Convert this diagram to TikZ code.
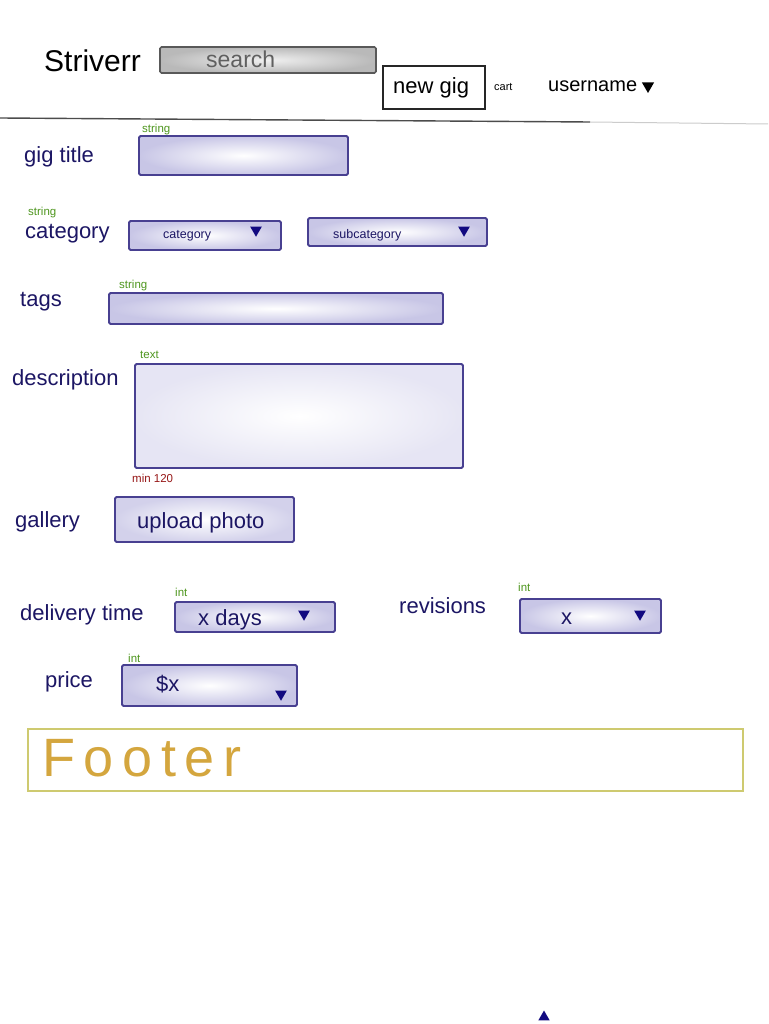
\documentclass[tikz,border=0pt]{standalone}
\usepackage{fontspec}
\setmainfont{Liberation Sans}
\usetikzlibrary{shapes.geometric}
\definecolor{navy}{RGB}{28,22,100}
\definecolor{fieldb}{RGB}{72,64,145}
\definecolor{fieldf}{RGB}{200,198,230}
\definecolor{tagg}{RGB}{78,150,30}
\definecolor{minred}{RGB}{150,22,22}
\definecolor{footb}{RGB}{206,202,112}
\definecolor{foott}{RGB}{212,166,62}
\definecolor{trig}{RGB}{18,10,128}
\begin{document}
\begin{tikzpicture}[x=1pt,y=-1pt,
  box/.style={anchor=north west, inner sep=0pt, outer sep=0pt},
  field/.style={box, draw=fieldb, line width=1.8pt, rounded corners=1.5pt,
    inner color=white, outer color=fieldf},
  lab/.style={text=navy, font=\fontsize{22}{26}\selectfont, anchor=base west, inner sep=0pt},
  small/.style={text=navy, font=\fontsize{12.5}{14}\selectfont, anchor=base west, inner sep=0pt},
  typ/.style={text=tagg, font=\fontsize{11.5}{13}\selectfont, anchor=base west, inner sep=0pt},
  tri/.style={regular polygon, regular polygon sides=3, fill=trig, inner sep=0pt,
    minimum size=13.5pt, shape border rotate=180},
  triup/.style={regular polygon, regular polygon sides=3, fill=trig, inner sep=0pt,
    minimum size=13pt}]
\useasboundingbox (0,0) rectangle (768,1024);
\fill[white] (0,0) rectangle (768,1024);

% header
\node[anchor=base west, inner sep=0pt, font=\fontsize{30}{34}\selectfont] (logo) at (44,72) {Striverr};
\node[box, draw=black!65, line width=1.6pt, rounded corners=1.5pt, inner color=gray!12, outer color=gray!55,
  minimum width=216pt, minimum height=26pt] (search) at (160,47) {};
\node[anchor=base west, inner sep=0pt, text=gray!75!black, font=\fontsize{23}{26}\selectfont] (searcht) at (206,68) {search};
\node[box, draw=black!85, line width=1.3pt, fill=white, minimum width=102pt, minimum height=43pt] (newgig) at (383,66) {};
\node[anchor=base west, inner sep=0pt, font=\fontsize{22}{26}\selectfont] (newgigt) at (393,94) {new gig};
\node[anchor=base west, inner sep=0pt, font=\fontsize{11}{13}\selectfont] (cart) at (494,91) {cart};
\node[anchor=base west, inner sep=0pt, font=\fontsize{20}{24}\selectfont] (user) at (548,92) {username};
\node[tri, fill=black, minimum size=14pt] (usertri) at (648,86) {};
\draw[line width=1.4pt, black!70] (0,118) -- (590,122);
\draw[line width=1pt, black!20] (590,122) -- (768,124);

% gig title
\node[typ] (t1) at (142,133) {string};
\node[lab] (l1) at (24,163) {gig title};
\node[field, minimum width=209pt, minimum height=39pt] (gigtitle) at (139,136) {};

% category
\node[typ] (t2) at (28,216) {string};
\node[lab] (l2) at (25,239) {category};
\node[field, minimum width=152pt, minimum height=29pt] (cat) at (129,221) {};
\node[small] (catt) at (163,238) {category};
\node[tri] (cattri) at (256,230) {};
\node[field, minimum width=179pt, minimum height=28pt] (subcat) at (308,218) {};
\node[small] (subcatt) at (333,238) {subcategory};
\node[tri] (subcattri) at (464,230) {};

% tags
\node[typ] (t3) at (119,288) {string};
\node[lab] (l3) at (20,306) {tags};
\node[field, minimum width=334pt, minimum height=31pt] (tags) at (109,293) {};

% description
\node[typ] (t4) at (140,358) {text};
\node[lab] (l4) at (12,385) {description};
\node[field, inner color=white, outer color=fieldf!45, minimum width=328pt, minimum height=104pt] (desc) at (135,364) {};
\node[typ, text=minred] (minc) at (132,482) {min 120};

% gallery
\node[lab] (l5) at (15,527) {gallery};
\node[field, outer color=fieldf!80, minimum width=179pt, minimum height=45pt] (upload) at (115,497) {};
\node[lab] (uploadt) at (137,528) {upload photo};

% delivery / revisions
\node[typ] (t6) at (175,596) {int};
\node[lab] (l6) at (20,620) {delivery time};
\node[field, minimum width=160pt, minimum height=30pt] (days) at (175,602) {};
\node[lab] (dayst) at (198,625) {x days};
\node[tri] (daystri) at (304,614) {};
\node[lab] (l7) at (399,613) {revisions};
\node[typ] (t7) at (518,591) {int};
\node[field, minimum width=141pt, minimum height=34pt] (rev) at (520,599) {};
\node[lab] (revt) at (561,624) {x};
\node[tri] (revtri) at (640,614) {};

% price
\node[typ] (t8) at (128,662) {int};
\node[lab] (l8) at (45,687) {price};
\node[field, minimum width=175pt, minimum height=41pt] (price) at (122,665) {};
\node[lab] (pricet) at (156,691) {\$x};
\node[tri] (pricetri) at (281,694) {};

% footer
\node[box, draw=footb, line width=1.6pt, minimum width=715pt, minimum height=62pt] (footer) at (28,729) {};
\node[anchor=base west, inner sep=0pt, text=foott, font=\fontsize{54}{60}\selectfont\addfontfeature{LetterSpace=16}] (footert) at (42,776) {Footer};

\node[triup] (bottri) at (544,1017) {};
\end{tikzpicture}
\end{document}
